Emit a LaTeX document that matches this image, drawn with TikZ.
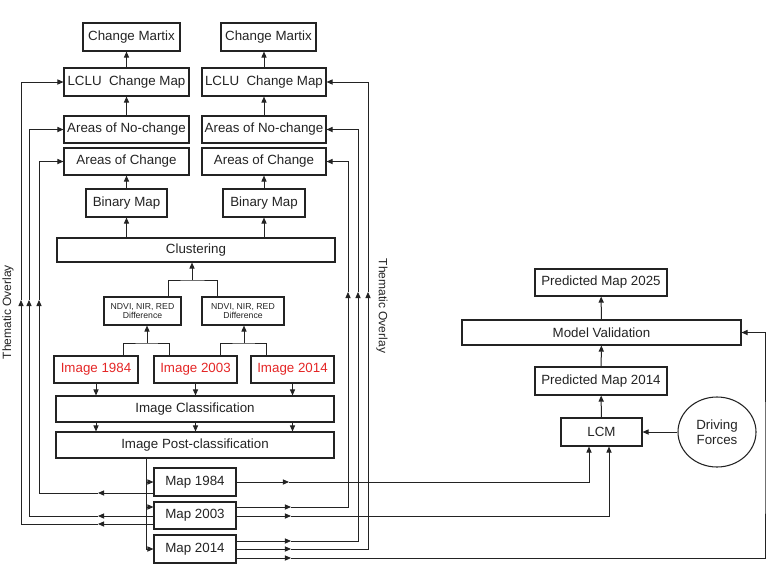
\documentclass[tikz,border=0pt]{standalone}
\usepackage{fontspec}
\setmainfont{Liberation Sans}
\usepackage{tikz}
\usetikzlibrary{arrows.meta,positioning,calc,shapes.geometric}
\definecolor{imgred}{RGB}{228,38,38}
\definecolor{ink}{RGB}{35,35,35}

\begin{document}
\begin{tikzpicture}[
        x=0.75pt, y=-0.75pt,
        every node/.style={font=\fontsize{10}{11}\selectfont, text=ink},
        box/.style={draw=ink, line width=0.8pt, inner sep=1pt, minimum height=20.5pt},
        bar/.style={box, minimum width=208.5pt, minimum height=19.5pt},
        small/.style={font=\fontsize{6.5}{6.5}\selectfont, align=center},
        conn/.style={draw=ink, line width=0.75pt},
        >={Triangle[length=4.6pt,width=3.9pt]},
    ]
        \useasboundingbox (0,0) rectangle (771,572);

        % left column
        \node[box, minimum width=72.75pt, minimum height=21pt] (cm1) at (131.5,37) {Change Martix};
        \node[box, minimum width=93.75pt, minimum height=21pt] (lc1) at (126.5,82) {LCLU\ \ Change Map};
        \node[box, minimum width=93.75pt, minimum height=20.25pt] (nc1) at (126.5,129.5) {Areas of No-change};
        \node[box, minimum width=93.75pt, minimum height=20.25pt] (ac1) at (126.5,161.5) {Areas of Change};
        \node[box, minimum width=60.75pt, minimum height=21pt] (bm1) at (126.5,203) {Binary Map};

        % right column
        \node[box, minimum width=71.25pt, minimum height=21pt] (cm2) at (268.5,37) {Change Martix};
        \node[box, minimum width=93pt, minimum height=21pt] (lc2) at (264,82) {LCLU\ \ Change Map};
        \node[box, minimum width=93pt, minimum height=20.25pt] (nc2) at (264,129.5) {Areas of No-change};
        \node[box, minimum width=93pt, minimum height=20.25pt] (ac2) at (264,161.5) {Areas of Change};
        \node[box, minimum width=61.5pt, minimum height=21pt] (bm2) at (264,203) {Binary Map};

        \node[box, minimum width=208.5pt, minimum height=18pt] (cl) at (196,250) {Clustering};
        \node[box, small, minimum width=57.75pt, minimum height=21pt] (nd1) at (142.5,311) {NDVI, NIR, RED\\Difference};
        \node[box, small, minimum width=61.5pt, minimum height=21pt] (nd2) at (243,311) {NDVI, NIR, RED\\Difference};

        \node[box, text=imgred, minimum width=63pt, minimum height=20.25pt] (im1) at (96,369.5) {Image 1984};
        \node[box, text=imgred, minimum width=62.25pt, minimum height=20.25pt] (im2) at (195.5,369.5) {Image 2003};
        \node[box, text=imgred, minimum width=62.25pt, minimum height=20.25pt] (im3) at (292.5,369.5) {Image 2014};

        \node[bar] (ic) at (195,409) {Image Classification};
        \node[bar] (ip) at (195,445) {Image Post-classification};

        \node[box, minimum width=61.5pt, minimum height=21pt] (m1) at (195,482) {Map 1984};
        \node[box, minimum width=61.5pt, minimum height=20.25pt] (m2) at (195,515.5) {Map 2003};
        \node[box, minimum width=61.5pt, minimum height=21pt] (m3) at (195,549) {Map 2014};

        % prediction side
        \node[box, minimum width=99pt, minimum height=20.25pt] (p25) at (601,282.5) {Predicted Map 2025};
        \node[box, minimum width=209.25pt, minimum height=18.75pt] (mv) at (601.5,332.5) {Model Validation};
        \node[box, minimum width=99pt, minimum height=21pt] (p14) at (601,381) {Predicted Map 2014};
        \node[box, minimum width=60.75pt, minimum height=21pt] (lcm) at (601.5,432) {LCM};
        \node[draw=ink, line width=0.8pt, ellipse, align=center, inner sep=0pt,
              minimum width=58.5pt, minimum height=52.5pt] (df) at (717,432) {Driving\\Forces};

        % side labels
        \node[rotate=90, font=\fontsize{9}{10}\selectfont] (tol) at (8,312) {Thematic Overlay};
        \node[rotate=-90, font=\fontsize{9}{10}\selectfont] (tor) at (382,306) {Thematic Overlay};

        % bends and arrow points
        \coordinate (l1) at (98,493);
        \coordinate (l2) at (98,516);
        \coordinate (l3) at (98,524);
        \coordinate (u1) at (39,300);
        \coordinate (u2) at (29,300);
        \coordinate (u3) at (21,300);
        \coordinate (r1) at (291,507);
        \coordinate (r2) at (291,541);
        \coordinate (r3) at (291,549);
        \coordinate (v1) at (348,292);
        \coordinate (v2) at (358,292);
        \coordinate (v3) at (368,292);
        \coordinate (s1) at (289,482);
        \coordinate (s2) at (291,516);
        \coordinate (s3) at (291,558);
        \coordinate (k1) at (589,470);
        \coordinate (k2) at (609,470);
        \coordinate (k3) at (765,470);
        \coordinate (q0) at (146,549);
        \coordinate (q2) at (146,507);
        \coordinate (j1) at (147,343);
        \coordinate (j2) at (244,343);
        \coordinate (j3) at (192,280);

        % upward chains
        \draw[conn,->] (lc1.north) -- (lc1.north|-cm1.south);
        \draw[conn,->] (nc1) -- (lc1);
        \draw[conn,->] (bm1) -- (ac1);
        \draw[conn,->] (lc2.north) -- (lc2.north|-cm2.south);
        \draw[conn,->] (nc2) -- (lc2);
        \draw[conn,->] (bm2) -- (ac2);
        \draw[conn,->] (bm1.south|-cl.north) -- (bm1.south);
        \draw[conn,->] (bm2.south|-cl.north) -- (bm2.south);

        \draw[conn] ($(nd1.north east)+(-13,0)$) |- (j3) -| ($(nd2.north west)+(16,0)$);
        \draw[conn,->] (j3) -- (j3|-cl.south);
        \draw[conn] ($(im1.north east)+(-15,0)$) |- (j1) -| ($(im2.north west)+(16,0)$);
        \draw[conn,->] (j1) -- (j1|-nd1.south);
        \draw[conn] ($(im2.north east)+(-17,0)$) |- (j2) -| ($(im3.north west)+(16,0)$);
        \draw[conn,->] (j2) -- (j2|-nd2.south);

        % classification steps
        \foreach \n in {im1,im2,im3} {
            \draw[conn,->] (\n.south) -- (\n.south|-ic.north);
            \draw[conn,->] (\n.south|-ic.south) -- (\n.south|-ip.north);
        }
        \draw[conn] (ip.south-|q0) -- (q0);
        \draw[conn,->] (q0|-m1.west) -- (m1.west);
        \draw[conn,->] (q2) -- (m2.west|-q2);
        \draw[conn,->] (q0) -- (m3.west);

        % thematic overlay, left
        \draw[conn,->] (m1.west|-l1) -- (l1);
        \draw[conn,->] (l1) -| (u1);
        \draw[conn,->] (u1) |- (ac1.west);
        \draw[conn,->] (m2.west|-l2) -- (l2);
        \draw[conn,->] (l2) -| (u2);
        \draw[conn,->] (u2) |- (nc1.west);
        \draw[conn,->] (m2.west|-l3) -- (l3);
        \draw[conn,->] (l3) -| (u3);
        \draw[conn,->] (u3) |- (lc1.west);

        % thematic overlay, right
        \draw[conn,->] (m2.east|-r1) -- (r1);
        \draw[conn,->] (r1) -| (v1);
        \draw[conn,->] (v1) |- (ac2.east);
        \draw[conn,->] (m3.east|-r2) -- (r2);
        \draw[conn,->] (r2) -| (v2);
        \draw[conn,->] (v2) |- (nc2.east);
        \draw[conn,->] (m3.east|-r3) -- (r3);
        \draw[conn,->] (r3) -| (v3);
        \draw[conn,->] (v3) |- (lc2.east);

        % maps to the model
        \draw[conn,->] (m1.east|-s1) -- (s1);
        \draw[conn,->] (s1) -| (k1|-lcm.south);
        \draw[conn,->] (m2.east|-s2) -- (s2);
        \draw[conn,->] (s2) -| (k2|-lcm.south);
        \draw[conn,->] (m3.east|-s3) -- (s3);
        \draw[conn,->] (s3) -| (k3) |- (mv.east);

        \draw[conn,->] (df) -- (lcm);
        \draw[conn,->] (lcm) -- (p14);
        \draw[conn,->] (p14) -- (mv);
        \draw[conn,->] (mv) -- (p25);
    \end{tikzpicture}
\end{document}
